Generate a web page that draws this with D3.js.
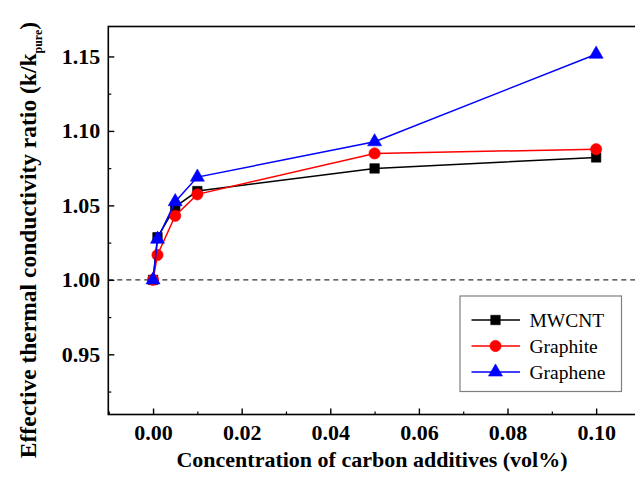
<!DOCTYPE html>
<html><head><meta charset="utf-8">
<script src="https://cdn.jsdelivr.net/npm/d3@7"></script>
<style>body{margin:0;background:#fff}</style>
</head><body><svg id="c" width="635" height="484"></svg>
<script>
const conc = [0, 0.001, 0.005, 0.01, 0.05, 0.10];
const mwcnt = [1.000, 1.0286, 1.049, 1.0596, 1.0748, 1.0822];
const graphite = [1.000, 1.0167, 1.043, 1.0574, 1.0849, 1.0877];
const graphene = [1.000, 1.0273, 1.0525, 1.069, 1.0927, 1.1515];
const seriesNames = ["MWCNT", "Graphite", "Graphene"];
const xTicks = [0, 0.02, 0.04, 0.06, 0.08, 0.10];
const yTicks = [0.95, 1.00, 1.05, 1.10, 1.15];

const svg = d3.select("#c");
const L = 108.3, R = 640, T = 26.5, B = 414.5;
const x = d3.scaleLinear().domain([-0.0101, 0.1099]).range([L, R]);
const y = d3.scaleLinear().domain([0.9096, 1.1701]).range([B, T]);
const serif = '"Liberation Serif", "Times New Roman", Times, serif';

// dashed reference
svg.append("line").attr("x1", L).attr("x2", R).attr("y1", y(1)).attr("y2", y(1))
  .attr("stroke", "#333").attr("stroke-width", 1.2).attr("stroke-dasharray", "5,4");

// frame
svg.append("rect").attr("x", L).attr("y", T).attr("width", R - L).attr("height", B - T)
  .attr("fill", "none").attr("stroke", "#000").attr("stroke-width", 1.6);

// x axis ticks (inward)
const xAxis = d3.axisBottom(x).tickValues(xTicks).tickSize(-6).tickFormat(d3.format(".2f"));
const gx = svg.append("g").attr("transform", `translate(0,${B})`).call(xAxis);
gx.select(".domain").remove();
gx.selectAll("line").attr("stroke-width", 1.4);
gx.selectAll("text").style("font-family", serif).style("font-weight", "bold")
  .style("font-size", "22px").attr("fill", "#000").attr("dy", "0em").attr("y", 25.5);
const gxm = svg.append("g").attr("transform", `translate(0,${B})`)
  .call(d3.axisBottom(x).tickValues([-0.01, 0.01, 0.03, 0.05, 0.07, 0.09]).tickSize(-3).tickFormat(""));
gxm.select(".domain").remove();
gxm.selectAll("line").attr("stroke-width", 1.2);

// y axis ticks (inward)
const gy = svg.append("g").attr("transform", `translate(${L},0)`)
  .call(d3.axisLeft(y).tickValues(yTicks).tickSize(-6).tickFormat(d3.format(".2f")));
gy.select(".domain").remove();
gy.selectAll("line").attr("stroke-width", 1.4);
gy.selectAll("text").style("font-family", serif).style("font-weight", "bold")
  .style("font-size", "22px").attr("fill", "#000").attr("x", -8);
const gym = svg.append("g").attr("transform", `translate(${L},0)`)
  .call(d3.axisLeft(y).tickValues([0.925, 0.975, 1.025, 1.075, 1.125]).tickSize(-3).tickFormat(""));
gym.select(".domain").remove();
gym.selectAll("line").attr("stroke-width", 1.2);

// series
const sets = [
  {name: seriesNames[0], vals: mwcnt, color: "#000000", sym: d3.symbolSquare, size: 90},
  {name: seriesNames[1], vals: graphite, color: "#ff0000", sym: d3.symbolCircle, size: 100},
  {name: seriesNames[2], vals: graphene, color: "#0000ff", sym: d3.symbolTriangle, size: 85}
];
const line = d3.line().x(d => x(d[0])).y(d => y(d[1]));
sets.forEach(s => {
  const pts = conc.map((c, i) => [c, s.vals[i]]);
  svg.append("path").attr("d", line(pts)).attr("fill", "none")
    .attr("stroke", s.color).attr("stroke-width", 1.5);
  svg.append("g").selectAll("path").data(pts).join("path")
    .attr("transform", d => `translate(${x(d[0])},${y(d[1])})`)
    .attr("d", d3.symbol().type(s.sym).size(s.size))
    .attr("fill", s.color).attr("stroke", s.color).attr("stroke-width", 0.6);
});

// legend
const lg = svg.append("g");
lg.append("rect").attr("x", 460).attr("y", 296).attr("width", 161.5).attr("height", 95.5)
  .attr("fill", "#fff").attr("stroke", "#808080").attr("stroke-width", 1.2);
sets.forEach((s, i) => {
  const cy = 320 + i * 26;
  lg.append("line").attr("x1", 471.5).attr("x2", 520).attr("y1", cy).attr("y2", cy)
    .attr("stroke", s.color).attr("stroke-width", 1.5);
  lg.append("path").attr("transform", `translate(495.5,${cy})`)
    .attr("d", d3.symbol().type(s.sym).size(s.size)).attr("fill", s.color)
    .attr("stroke", s.color).attr("stroke-width", 0.6);
  lg.append("text").attr("x", 529.5).attr("y", cy + 6.5).text(s.name)
    .style("font-family", serif).style("font-size", "19.5px").attr("fill", "#000");
});

// axis titles
svg.append("text").attr("x", 372).attr("y", 467).attr("text-anchor", "middle")
  .style("font-family", serif).style("font-weight", "bold").style("font-size", "22px")
  .text("Concentration of carbon additives (vol%)");
const yt = svg.append("text").attr("transform", "translate(36,240) rotate(-90)")
  .attr("text-anchor", "middle").style("font-family", serif).style("font-weight", "bold")
  .style("font-size", "23.5px");
yt.append("tspan").text("Effective thermal conductivity ratio (k/k");
yt.append("tspan").style("font-size", "12px").attr("dy", 6).text("pure");
yt.append("tspan").attr("dy", -6).text(")");
</script></body></html>
